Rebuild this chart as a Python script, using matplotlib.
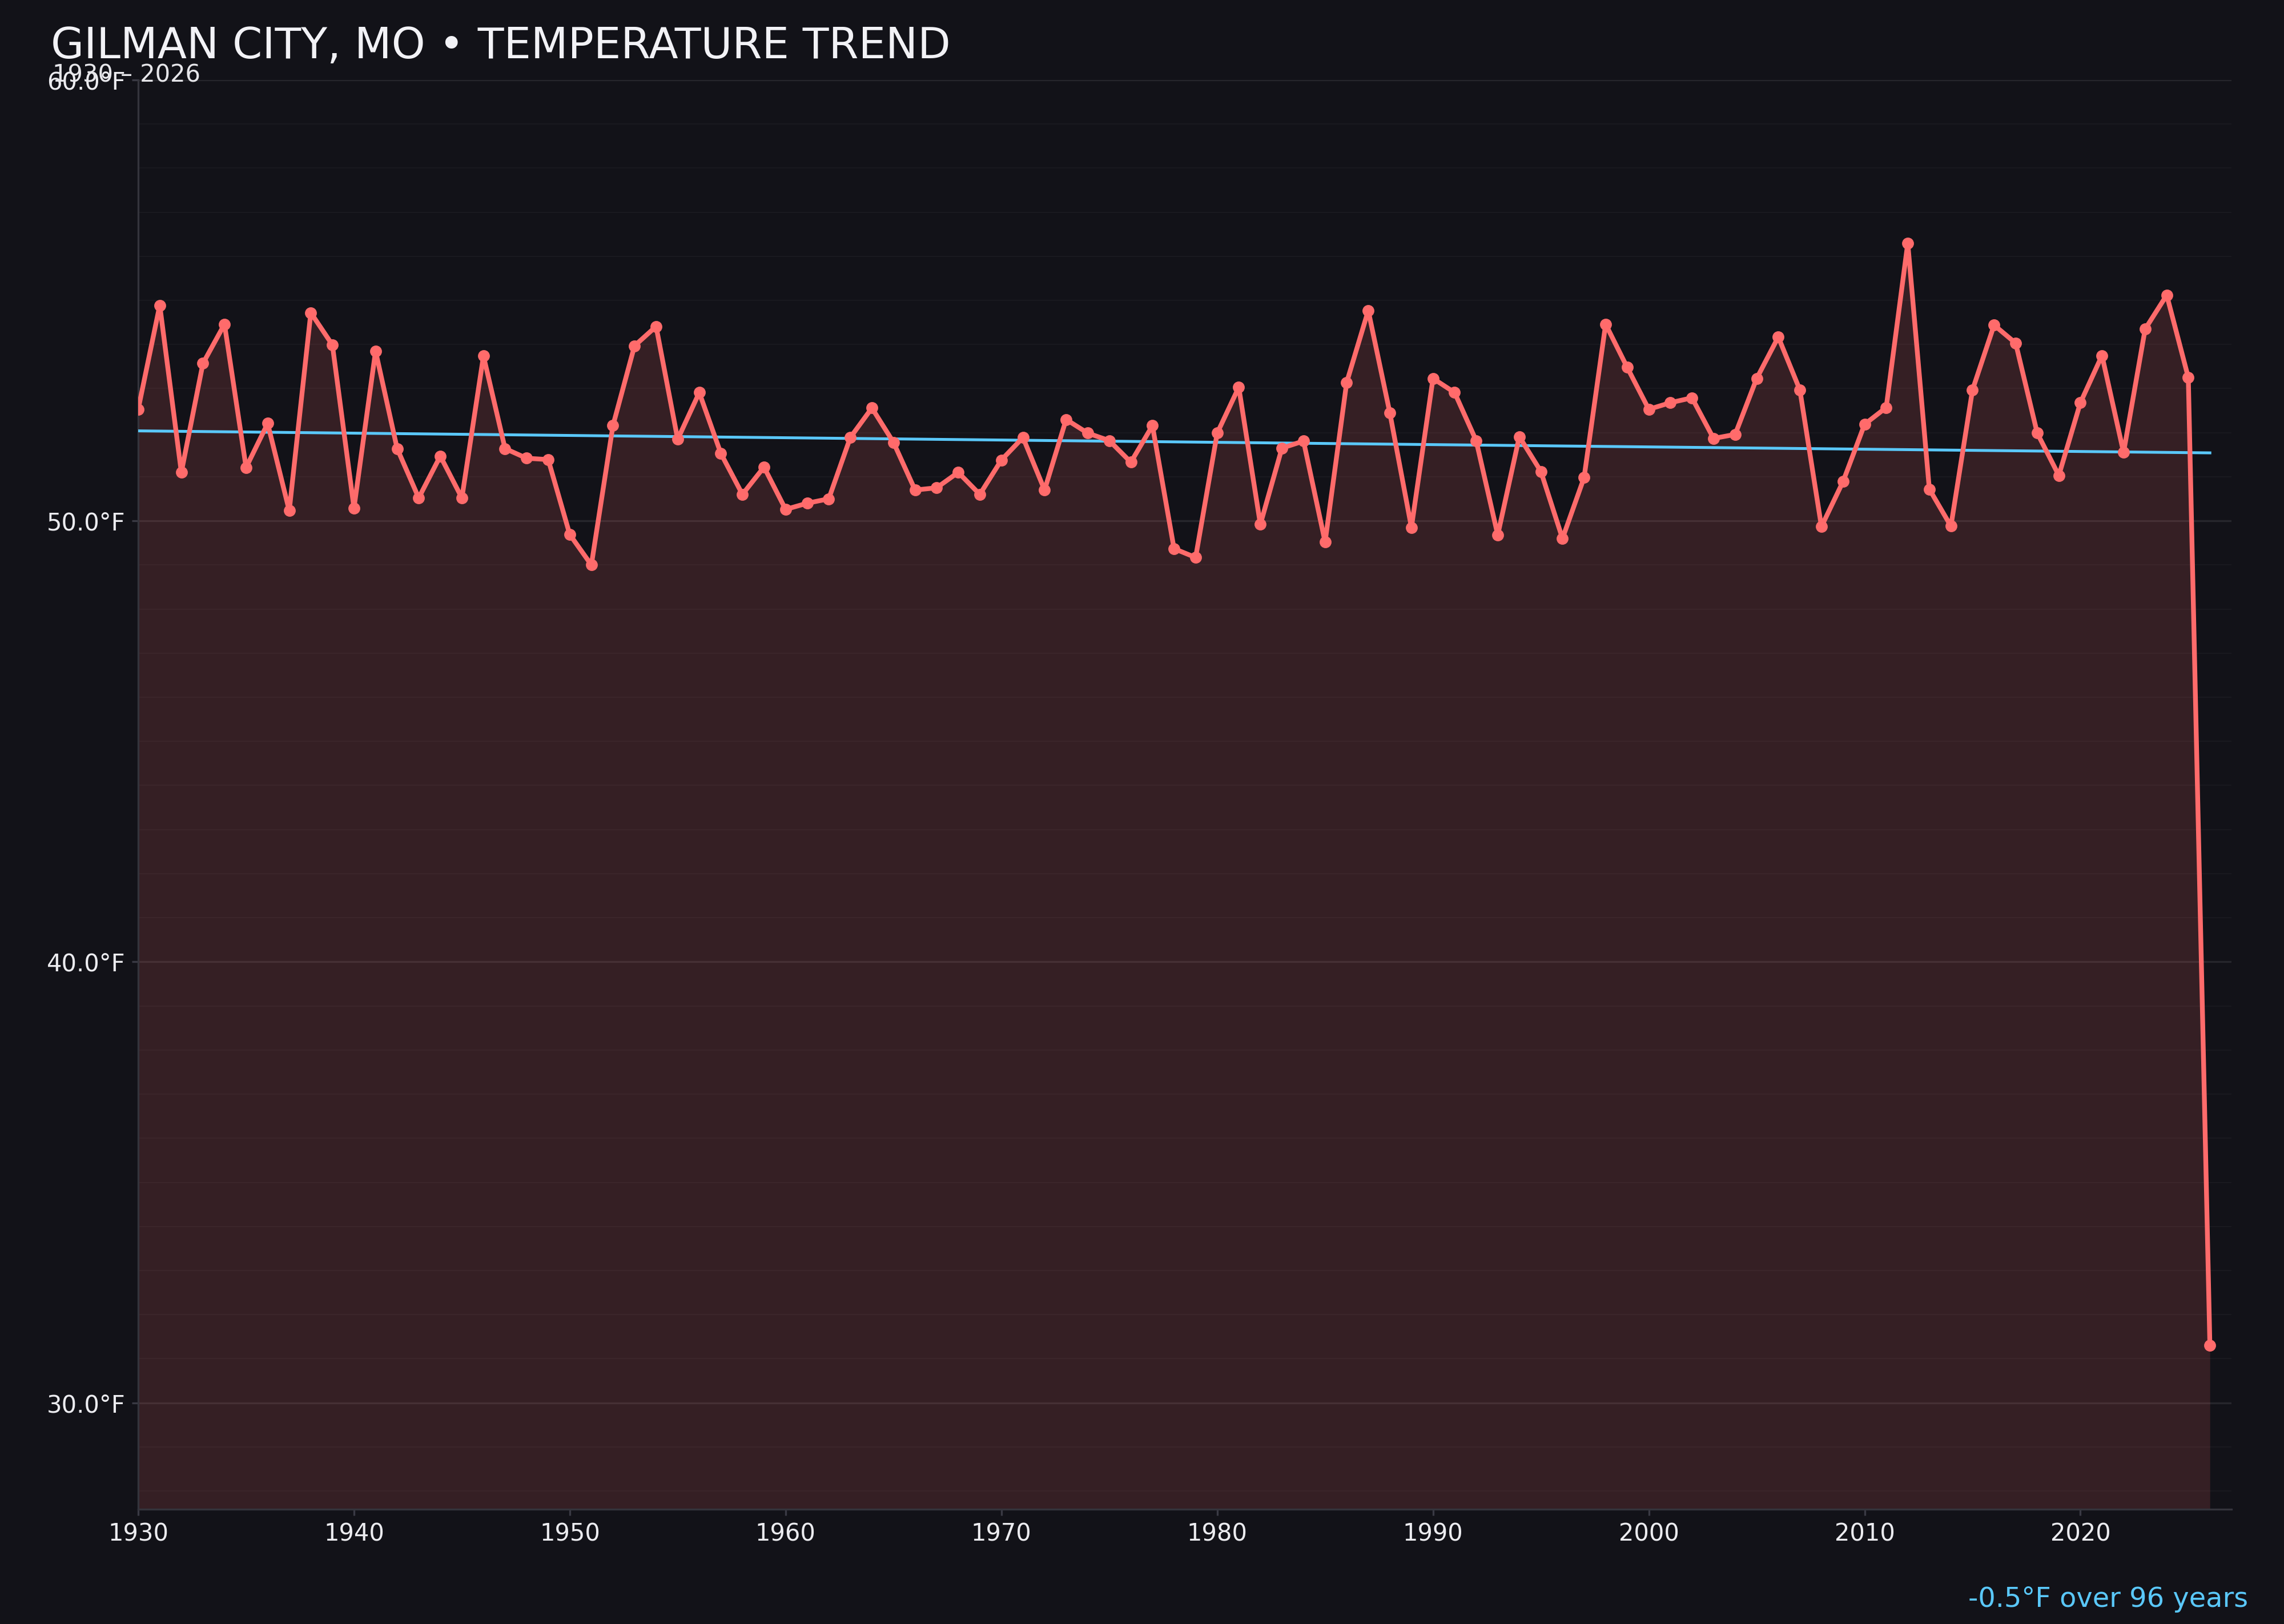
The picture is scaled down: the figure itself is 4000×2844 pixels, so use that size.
import numpy as np
import matplotlib.pyplot as plt

plt.rcParams['font.family'] = ['DejaVu Sans']

# annual mean temperature, Gilman City MO (°F)
years = list(range(1930, 2027))
temps = [
    52.53, 54.89, 51.10, 53.57, 54.46, 51.21, 52.21, 50.23, 54.72, 53.99,  # 1930s
    50.29, 53.85, 51.64, 50.52, 51.47, 50.52, 53.74, 51.64, 51.42, 51.39,  # 1940s
    49.69, 49.00, 52.16, 53.97, 54.41, 51.85, 52.91, 51.53, 50.60, 51.22,  # 1950s
    50.26, 50.40, 50.50, 51.89, 52.56, 51.78, 50.70, 50.75, 51.10, 50.60,  # 1960s
    51.38, 51.89, 50.70, 52.30, 51.99, 51.82, 51.33, 52.16, 49.37, 49.17,  # 1970s
    51.99, 53.03, 49.92, 51.65, 51.81, 49.52, 53.14, 54.77, 52.45, 49.85,  # 1980s
    53.23, 52.91, 51.82, 49.68, 51.91, 51.12, 49.60, 50.98, 54.46, 53.48,  # 1990s
    52.53, 52.68, 52.79, 51.87, 51.96, 53.23, 54.17, 52.97, 49.87, 50.89,  # 2000s
    52.19, 52.57, 56.30, 50.72, 49.88, 52.97, 54.44, 54.03, 51.99, 51.03,  # 2010s
    52.68, 53.75, 51.55, 54.35, 55.12, 53.25, 31.30,                      # 2020s
]
ytick_vals = [30, 40, 50, 60]
xtick_vals = [1930, 1940, 1950, 1960, 1970, 1980, 1990, 2000, 2010, 2020]

bg = '#121218'
red = '#ff6b6b'
blue = '#5ac8fa'

fig = plt.figure(figsize=(4000 / 300, 2844 / 300), dpi=300, facecolor=bg)
ax = fig.add_axes([0.0605, 0.0705, 0.9165, 0.8803])
ax.set_facecolor(bg)

x = np.array(years)
y = np.array(temps)
ymin = 27.58

ax.fill_between(x, y, ymin, color=red, alpha=0.15, linewidth=0, zorder=2)
ax.plot(x, y, color=red, linewidth=2.0, marker='o', markersize=4, zorder=4)

# linear trend
slope, icpt = np.polyfit(x, y, 1)
ax.plot(x, slope * x + icpt, color=blue, linewidth=1.2, zorder=3)

ax.set_xlim(1930, 2027)
ax.set_ylim(ymin, 60)
ax.set_xticks(xtick_vals)
ax.set_yticks(ytick_vals)
ax.set_yticklabels([f'{v:.1f}°F' for v in ytick_vals])
ax.set_yticks(np.arange(28, 61, 1), minor=True)
ax.tick_params(axis='y', which='minor', length=0)
ax.tick_params(which='major', colors='#3a3a44', labelcolor='#ececf0', labelsize=10,
               length=2.6, width=0.8, pad=2.8)

ax.grid(axis='y', which='major', color='#26262c', linewidth=0.8, zorder=1)
ax.grid(axis='y', which='minor', color='#19191f', linewidth=0.5, zorder=1)
ax.set_axisbelow(True)

for s in ['top', 'right']:
    ax.spines[s].set_visible(False)
for s in ['left', 'bottom']:
    ax.spines[s].set_color('#34343c')
    ax.spines[s].set_linewidth(0.8)

fig.text(0.0222, 0.9642, 'GILMAN CITY, MO • TEMPERATURE TREND', color='#f2f2f6',
         fontsize=18, ha='left', va='baseline')
fig.text(0.0230, 0.9496, '1930 – 2026', color='#e6e6ea', fontsize=10,
         ha='left', va='baseline')
fig.text(0.9844, 0.0105, '-0.5°F over 96 years', color=blue, fontsize=11.5,
         ha='right', va='baseline')

fig.savefig('out.png', dpi=300, facecolor=bg)
